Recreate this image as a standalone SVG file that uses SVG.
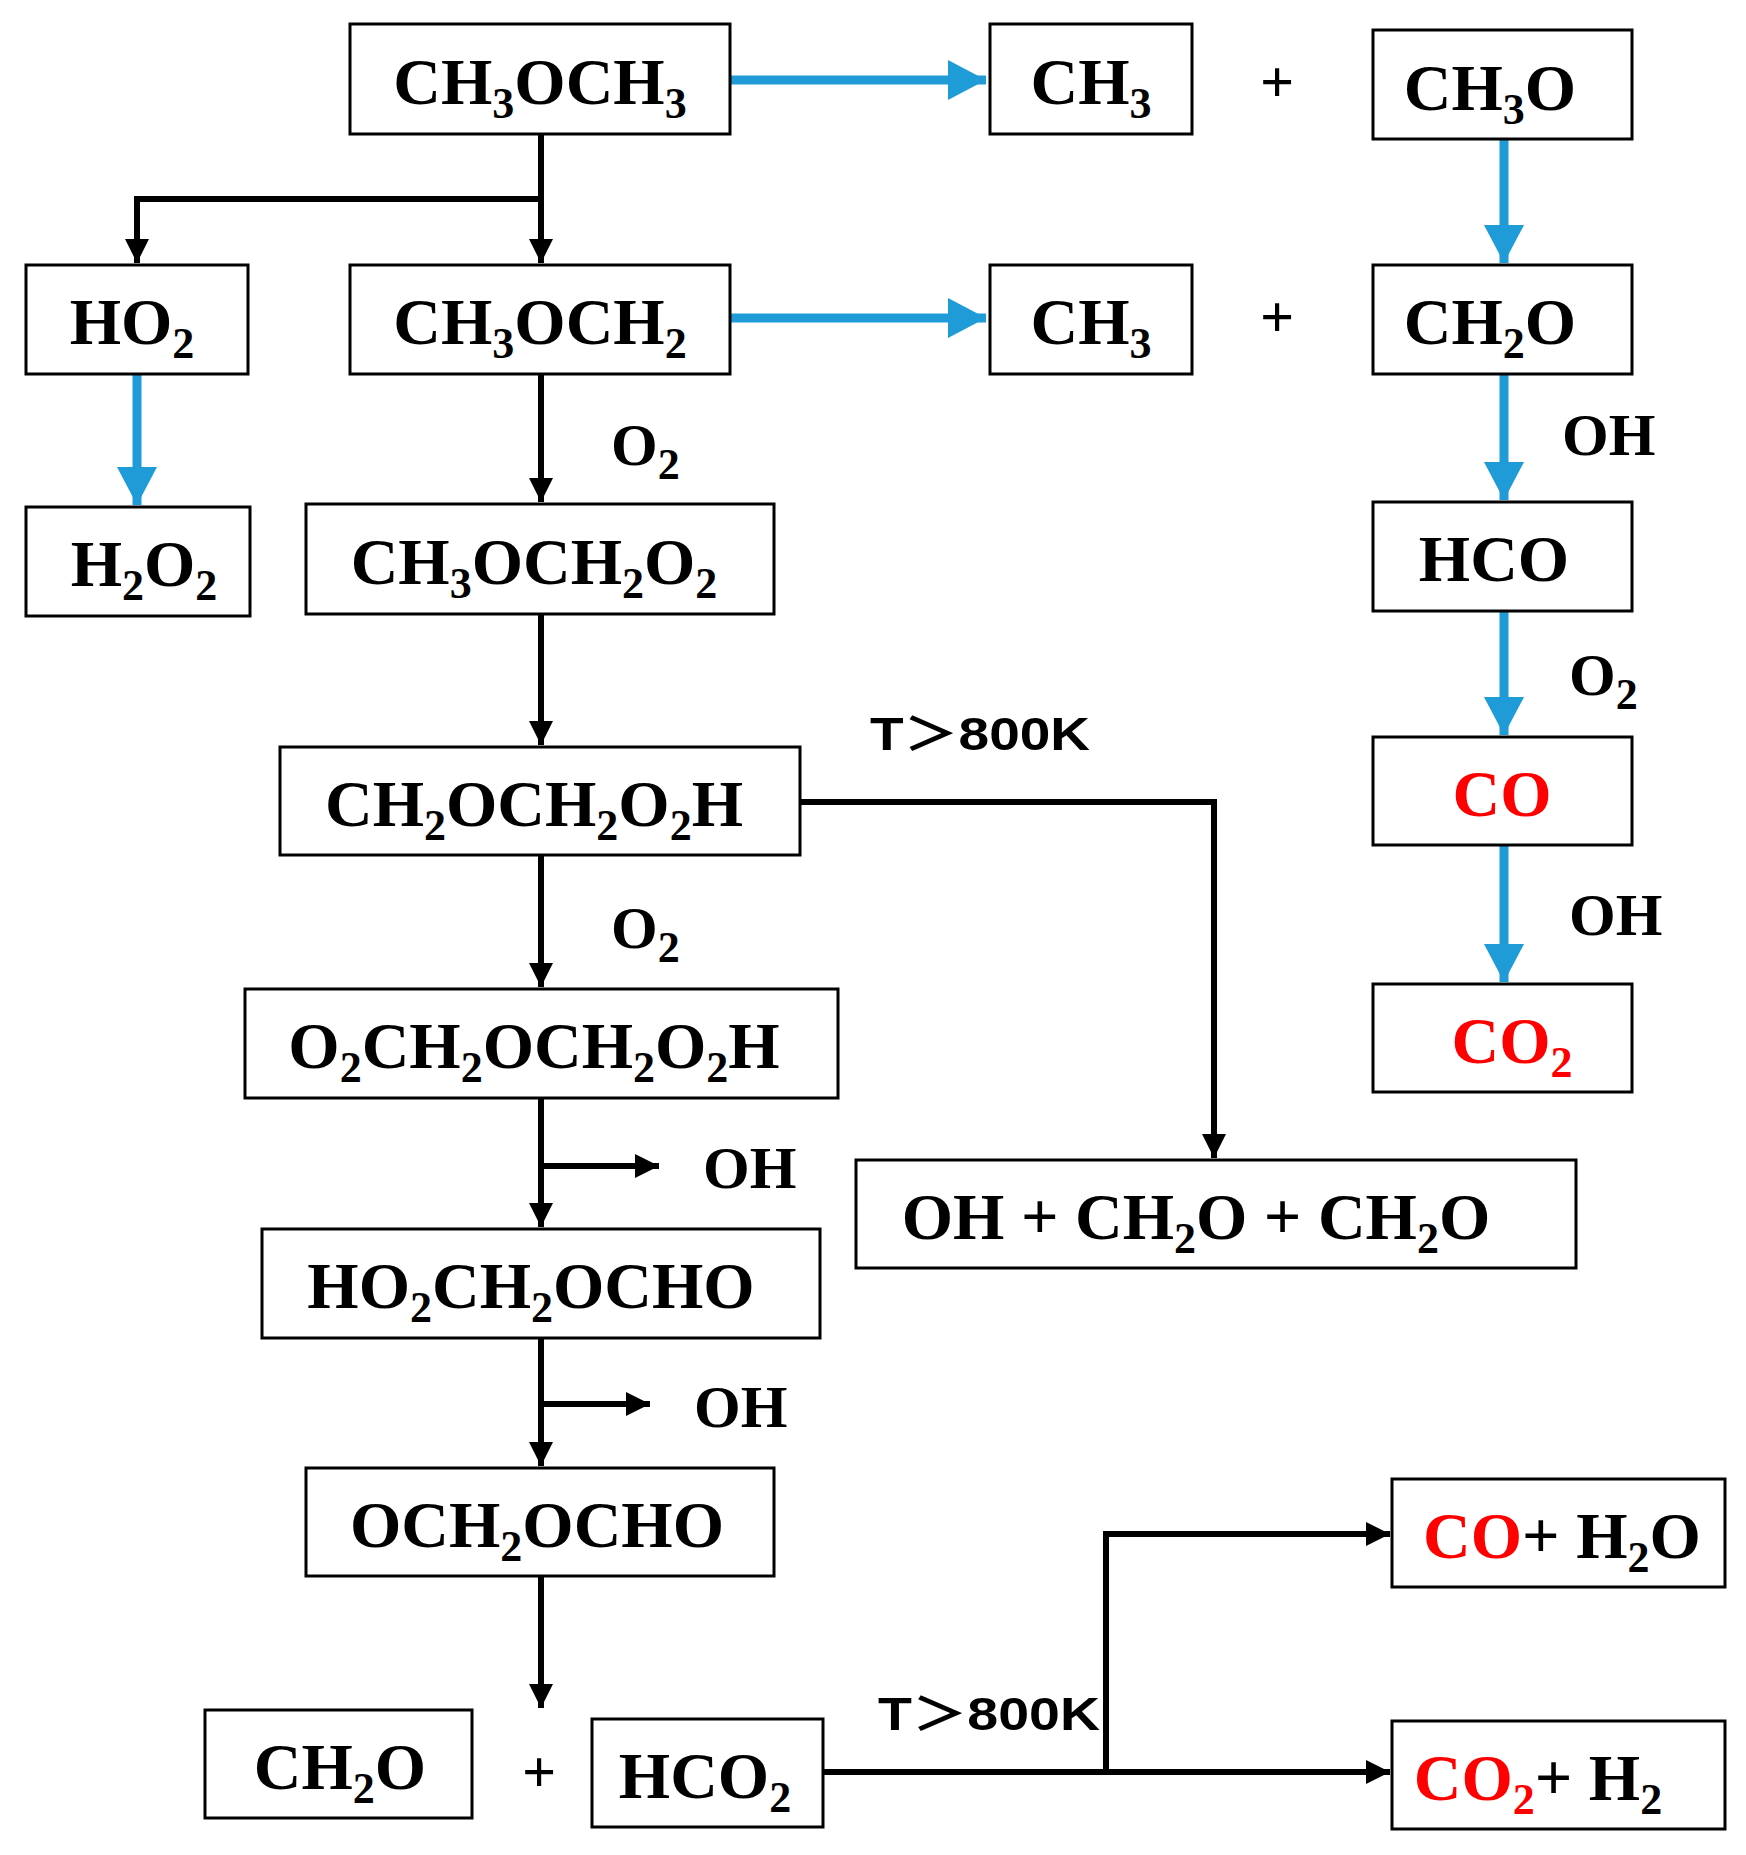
<svg xmlns="http://www.w3.org/2000/svg" width="1746" height="1855" viewBox="0 0 1746 1855">
<style>
.b{fill:#fff;stroke:#000;stroke-width:3}
.t{font-family:"Liberation Serif","Times New Roman",serif;font-weight:bold;font-size:66px;text-anchor:middle;fill:#000}
.l{font-family:"Liberation Serif","Times New Roman",serif;font-weight:bold;font-size:60px;fill:#000}
.s{font-size:44px}
.r{fill:#f00}
.k{fill:none;stroke:#000;stroke-width:6}
.c{fill:none;stroke:#1f9bd7;stroke-width:9}
.tk{font-family:"Liberation Sans","Noto Sans CJK SC",sans-serif;font-weight:bold;font-size:46px;fill:#000}
</style>
<defs>
<marker id="ak" markerUnits="userSpaceOnUse" markerWidth="28" markerHeight="28" refX="24" refY="12" orient="auto"><path d="M0,0 L24,12 L0,24 Z" fill="#000"/></marker>
<marker id="ab" markerUnits="userSpaceOnUse" markerWidth="42" markerHeight="42" refX="38" refY="20" orient="auto"><path d="M0,0 L38,20 L0,40 Z" fill="#1f9bd7"/></marker>
</defs>
<g id="connectors">
<path class="c" d="M730,80 H986" marker-end="url(#ab)"/>
<path class="c" d="M730,318 H986" marker-end="url(#ab)"/>
<path class="c" d="M137,374 V505" marker-end="url(#ab)"/>
<path class="c" d="M1504,139 V263" marker-end="url(#ab)"/>
<path class="c" d="M1504,374 V500" marker-end="url(#ab)"/>
<path class="c" d="M1504,611 V735" marker-end="url(#ab)"/>
<path class="c" d="M1504,845 V982" marker-end="url(#ab)"/>
<path class="k" d="M541,134 V263" marker-end="url(#ak)"/>
<path class="k" d="M541,199 H137 V263" marker-end="url(#ak)"/>
<path class="k" d="M541,374 V502" marker-end="url(#ak)"/>
<path class="k" d="M541,614 V745" marker-end="url(#ak)"/>
<path class="k" d="M800,802 H1214 V1158" marker-end="url(#ak)"/>
<path class="k" d="M541,855 V987" marker-end="url(#ak)"/>
<path class="k" d="M541,1098 V1227" marker-end="url(#ak)"/>
<path class="k" d="M541,1166 H659" marker-end="url(#ak)"/>
<path class="k" d="M541,1338 V1466" marker-end="url(#ak)"/>
<path class="k" d="M541,1404 H650" marker-end="url(#ak)"/>
<path class="k" d="M541,1576 V1708" marker-end="url(#ak)"/>
<path class="k" d="M823,1772 H1390" marker-end="url(#ak)"/>
<path class="k" d="M1106,1772 V1534 H1390" marker-end="url(#ak)"/>
</g>
<g id="labels">
<text class="l" x="611" y="465">O<tspan class="s" dy="14">2</tspan></text>
<text class="l" x="1562" y="455">OH</text>
<text class="l" x="1569" y="695">O<tspan class="s" dy="14">2</tspan></text>
<text class="l" x="1569" y="935">OH</text>
<text class="l" x="611" y="948">O<tspan class="s" dy="14">2</tspan></text>
<text class="l" x="703" y="1188">OH</text>
<text class="l" x="694" y="1427">OH</text>
<text class="tk" x="870" y="750" textLength="220" lengthAdjust="spacingAndGlyphs">T＞800K</text>
<text class="tk" x="878" y="1730" textLength="222" lengthAdjust="spacingAndGlyphs">T＞800K</text>
<text class="l" x="1260" y="102">+</text>
<text class="l" x="1260" y="337">+</text>
<text class="l" x="522" y="1792">+</text>
</g>
<g id="n1"><rect class="b" x="350" y="24" width="380" height="110"/><text class="t" x="540" y="104">CH<tspan class="s" dy="14">3</tspan><tspan dy="-14">OCH</tspan><tspan class="s" dy="14">3</tspan></text></g>
<g id="n2"><rect class="b" x="990" y="24" width="202" height="110"/><text class="t" x="1091" y="104">CH<tspan class="s" dy="14">3</tspan></text></g>
<g id="n3"><rect class="b" x="1373" y="30" width="259" height="109"/><text class="t" x="1490" y="110">CH<tspan class="s" dy="14">3</tspan><tspan dy="-14">O</tspan></text></g>
<g id="n4"><rect class="b" x="26" y="265" width="222" height="109"/><text class="t" x="132" y="344">HO<tspan class="s" dy="14">2</tspan></text></g>
<g id="n5"><rect class="b" x="350" y="265" width="380" height="109"/><text class="t" x="540" y="344">CH<tspan class="s" dy="14">3</tspan><tspan dy="-14">OCH</tspan><tspan class="s" dy="14">2</tspan></text></g>
<g id="n6"><rect class="b" x="990" y="265" width="202" height="109"/><text class="t" x="1091" y="344">CH<tspan class="s" dy="14">3</tspan></text></g>
<g id="n7"><rect class="b" x="1373" y="265" width="259" height="109"/><text class="t" x="1490" y="344">CH<tspan class="s" dy="14">2</tspan><tspan dy="-14">O</tspan></text></g>
<g id="n8"><rect class="b" x="26" y="507" width="224" height="109"/><text class="t" x="144" y="586">H<tspan class="s" dy="14">2</tspan><tspan dy="-14">O</tspan><tspan class="s" dy="14">2</tspan></text></g>
<g id="n9"><rect class="b" x="306" y="504" width="468" height="110"/><text class="t" x="534" y="584">CH<tspan class="s" dy="14">3</tspan><tspan dy="-14">OCH</tspan><tspan class="s" dy="14">2</tspan><tspan dy="-14">O</tspan><tspan class="s" dy="14">2</tspan></text></g>
<g id="n10"><rect class="b" x="1373" y="502" width="259" height="109"/><text class="t" x="1494" y="581">HCO</text></g>
<g id="n11"><rect class="b" x="280" y="747" width="520" height="108"/><text class="t" x="534" y="826">CH<tspan class="s" dy="14">2</tspan><tspan dy="-14">OCH</tspan><tspan class="s" dy="14">2</tspan><tspan dy="-14">O</tspan><tspan class="s" dy="14">2</tspan><tspan dy="-14">H</tspan></text></g>
<g id="n12"><rect class="b" x="1373" y="737" width="259" height="108"/><text class="t r" x="1502" y="816">CO</text></g>
<g id="n13"><rect class="b" x="245" y="989" width="593" height="109"/><text class="t" x="534" y="1068">O<tspan class="s" dy="14">2</tspan><tspan dy="-14">CH</tspan><tspan class="s" dy="14">2</tspan><tspan dy="-14">OCH</tspan><tspan class="s" dy="14">2</tspan><tspan dy="-14">O</tspan><tspan class="s" dy="14">2</tspan><tspan dy="-14">H</tspan></text></g>
<g id="n14"><rect class="b" x="1373" y="984" width="259" height="108"/><text class="t r" x="1512" y="1063">CO<tspan class="s" dy="14">2</tspan></text></g>
<g id="n15"><rect class="b" x="856" y="1160" width="720" height="108"/><text class="t" x="1196" y="1239">OH + CH<tspan class="s" dy="14">2</tspan><tspan dy="-14">O + CH</tspan><tspan class="s" dy="14">2</tspan><tspan dy="-14">O</tspan></text></g>
<g id="n16"><rect class="b" x="262" y="1229" width="558" height="109"/><text class="t" x="531" y="1308">HO<tspan class="s" dy="14">2</tspan><tspan dy="-14">CH</tspan><tspan class="s" dy="14">2</tspan><tspan dy="-14">OCHO</tspan></text></g>
<g id="n17"><rect class="b" x="306" y="1468" width="468" height="108"/><text class="t" x="537" y="1547">OCH<tspan class="s" dy="14">2</tspan><tspan dy="-14">OCHO</tspan></text></g>
<g id="n18"><rect class="b" x="1392" y="1479" width="333" height="108"/><text class="t" x="1562" y="1558"><tspan class="r">CO</tspan>+ H<tspan class="s" dy="14">2</tspan><tspan dy="-14">O</tspan></text></g>
<g id="n19"><rect class="b" x="205" y="1710" width="267" height="108"/><text class="t" x="340" y="1789">CH<tspan class="s" dy="14">2</tspan><tspan dy="-14">O</tspan></text></g>
<g id="n20"><rect class="b" x="592" y="1719" width="231" height="108"/><text class="t" x="705" y="1798">HCO<tspan class="s" dy="14">2</tspan></text></g>
<g id="n21"><rect class="b" x="1392" y="1721" width="333" height="108"/><text class="t" x="1538" y="1800"><tspan class="r">CO</tspan><tspan class="s r" dy="14">2</tspan><tspan dy="-14">+ H</tspan><tspan class="s" dy="14">2</tspan></text></g>
</svg>
